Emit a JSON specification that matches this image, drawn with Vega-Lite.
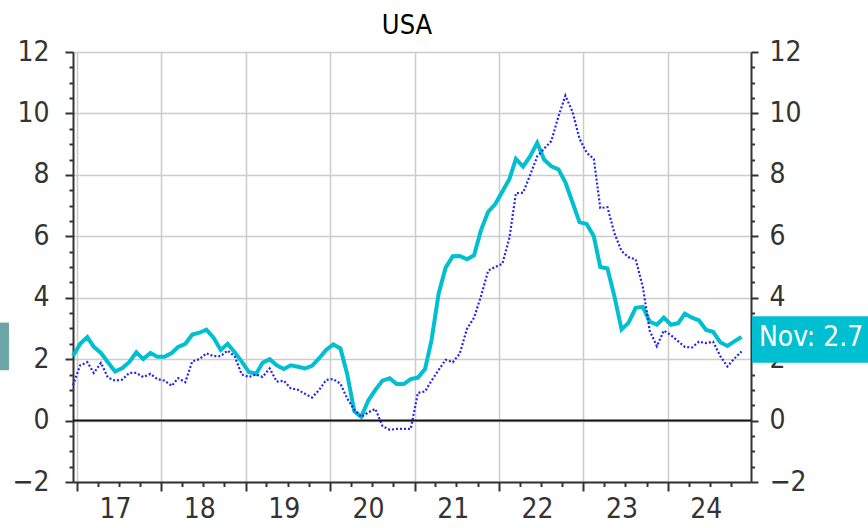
{
  "$schema": "https://vega.github.io/schema/vega-lite/v6.json",
  "width": 678,
  "height": 430,
  "autosize": {"type": "none"},
  "padding": {"left": 73, "top": 52, "right": 117, "bottom": 46},
  "title": {"text": "USA", "fontSize": 27, "fontWeight": "normal", "color": "#000000", "anchor": "middle", "frame": "group", "dx": -5, "baseline": "alphabetic", "offset": -23, "font": "DejaVu Sans Condensed, Liberation Sans Narrow, sans-serif"},
  "config": {
    "view": {"stroke": null},
    "font": "DejaVu Sans Condensed, Liberation Sans Narrow, sans-serif",
    "axis": {"labelFontSize": 28, "labelColor": "#333333", "domainColor": "#333333", "tickColor": "#333333", "domainWidth": 2, "tickWidth": 2, "gridColor": "#cccccc", "gridWidth": 1.5, "title": null, "labelFont": "DejaVu Sans Condensed, Liberation Sans Narrow, sans-serif"}
  },
  "datasets": {
    "series": [
      {"d": "2016-12-15", "us": 2.1, "ea": 1.15},
      {"d": "2017-01-15", "us": 2.5, "ea": 1.8},
      {"d": "2017-02-15", "us": 2.72, "ea": 1.9},
      {"d": "2017-03-15", "us": 2.4, "ea": 1.55},
      {"d": "2017-04-15", "us": 2.2, "ea": 1.88},
      {"d": "2017-05-15", "us": 1.9, "ea": 1.4},
      {"d": "2017-06-15", "us": 1.6, "ea": 1.3},
      {"d": "2017-07-15", "us": 1.7, "ea": 1.33},
      {"d": "2017-08-15", "us": 1.9, "ea": 1.55},
      {"d": "2017-09-15", "us": 2.22, "ea": 1.55},
      {"d": "2017-10-15", "us": 2.0, "ea": 1.42},
      {"d": "2017-11-15", "us": 2.2, "ea": 1.52},
      {"d": "2017-12-15", "us": 2.08, "ea": 1.35},
      {"d": "2018-01-15", "us": 2.08, "ea": 1.3},
      {"d": "2018-02-15", "us": 2.2, "ea": 1.13},
      {"d": "2018-03-15", "us": 2.4, "ea": 1.38},
      {"d": "2018-04-15", "us": 2.5, "ea": 1.25},
      {"d": "2018-05-15", "us": 2.8, "ea": 1.93},
      {"d": "2018-06-15", "us": 2.86, "ea": 2.0},
      {"d": "2018-07-15", "us": 2.96, "ea": 2.19},
      {"d": "2018-08-15", "us": 2.7, "ea": 2.1},
      {"d": "2018-09-15", "us": 2.3, "ea": 2.1},
      {"d": "2018-10-15", "us": 2.5, "ea": 2.28},
      {"d": "2018-11-15", "us": 2.22, "ea": 2.08},
      {"d": "2018-12-15", "us": 1.92, "ea": 1.5},
      {"d": "2019-01-15", "us": 1.58, "ea": 1.42},
      {"d": "2019-02-15", "us": 1.52, "ea": 1.5},
      {"d": "2019-03-15", "us": 1.88, "ea": 1.42},
      {"d": "2019-04-15", "us": 2.0, "ea": 1.7},
      {"d": "2019-05-15", "us": 1.8, "ea": 1.27},
      {"d": "2019-06-15", "us": 1.68, "ea": 1.3},
      {"d": "2019-07-15", "us": 1.8, "ea": 1.05},
      {"d": "2019-08-15", "us": 1.75, "ea": 1.0},
      {"d": "2019-09-15", "us": 1.7, "ea": 0.87},
      {"d": "2019-10-15", "us": 1.78, "ea": 0.75},
      {"d": "2019-11-15", "us": 2.03, "ea": 1.0},
      {"d": "2019-12-15", "us": 2.3, "ea": 1.32},
      {"d": "2020-01-15", "us": 2.48, "ea": 1.35},
      {"d": "2020-02-15", "us": 2.35, "ea": 1.2},
      {"d": "2020-03-15", "us": 1.52, "ea": 0.72},
      {"d": "2020-04-15", "us": 0.3, "ea": 0.35},
      {"d": "2020-05-15", "us": 0.12, "ea": 0.12},
      {"d": "2020-06-15", "us": 0.66, "ea": 0.27},
      {"d": "2020-07-15", "us": 1.0, "ea": 0.38},
      {"d": "2020-08-15", "us": 1.3, "ea": -0.18},
      {"d": "2020-09-15", "us": 1.38, "ea": -0.3},
      {"d": "2020-10-15", "us": 1.19, "ea": -0.27},
      {"d": "2020-11-15", "us": 1.19, "ea": -0.27},
      {"d": "2020-12-15", "us": 1.35, "ea": -0.27},
      {"d": "2021-01-15", "us": 1.4, "ea": 0.9},
      {"d": "2021-02-15", "us": 1.68, "ea": 0.95},
      {"d": "2021-03-15", "us": 2.62, "ea": 1.3},
      {"d": "2021-04-15", "us": 4.15, "ea": 1.65},
      {"d": "2021-05-15", "us": 4.98, "ea": 1.98},
      {"d": "2021-06-15", "us": 5.35, "ea": 1.9},
      {"d": "2021-07-15", "us": 5.36, "ea": 2.18},
      {"d": "2021-08-15", "us": 5.25, "ea": 2.98},
      {"d": "2021-09-15", "us": 5.38, "ea": 3.35},
      {"d": "2021-10-15", "us": 6.2, "ea": 4.05},
      {"d": "2021-11-15", "us": 6.8, "ea": 4.88},
      {"d": "2021-12-15", "us": 7.04, "ea": 5.0},
      {"d": "2022-01-15", "us": 7.45, "ea": 5.1},
      {"d": "2022-02-15", "us": 7.87, "ea": 5.95},
      {"d": "2022-03-15", "us": 8.52, "ea": 7.4},
      {"d": "2022-04-15", "us": 8.27, "ea": 7.42},
      {"d": "2022-05-15", "us": 8.6, "ea": 7.98},
      {"d": "2022-06-15", "us": 9.04, "ea": 8.6},
      {"d": "2022-07-15", "us": 8.5, "ea": 8.85},
      {"d": "2022-08-15", "us": 8.28, "ea": 9.1},
      {"d": "2022-09-15", "us": 8.18, "ea": 9.9},
      {"d": "2022-10-15", "us": 7.76, "ea": 10.58},
      {"d": "2022-11-15", "us": 7.1, "ea": 10.05},
      {"d": "2022-12-15", "us": 6.46, "ea": 9.18},
      {"d": "2023-01-15", "us": 6.4, "ea": 8.72},
      {"d": "2023-02-15", "us": 6.0, "ea": 8.52},
      {"d": "2023-03-15", "us": 5.0, "ea": 6.92},
      {"d": "2023-04-15", "us": 4.95, "ea": 6.95},
      {"d": "2023-05-15", "us": 4.05, "ea": 6.1},
      {"d": "2023-06-15", "us": 2.97, "ea": 5.52},
      {"d": "2023-07-15", "us": 3.18, "ea": 5.32},
      {"d": "2023-08-15", "us": 3.67, "ea": 5.25},
      {"d": "2023-09-15", "us": 3.7, "ea": 4.35},
      {"d": "2023-10-15", "us": 3.22, "ea": 2.92},
      {"d": "2023-11-15", "us": 3.12, "ea": 2.42},
      {"d": "2023-12-15", "us": 3.35, "ea": 2.93},
      {"d": "2024-01-15", "us": 3.12, "ea": 2.78},
      {"d": "2024-02-15", "us": 3.17, "ea": 2.58},
      {"d": "2024-03-15", "us": 3.48, "ea": 2.4},
      {"d": "2024-04-15", "us": 3.35, "ea": 2.38},
      {"d": "2024-05-15", "us": 3.26, "ea": 2.57},
      {"d": "2024-06-15", "us": 2.95, "ea": 2.52},
      {"d": "2024-07-15", "us": 2.89, "ea": 2.57},
      {"d": "2024-08-15", "us": 2.55, "ea": 2.1},
      {"d": "2024-09-15", "us": 2.43, "ea": 1.76},
      {"d": "2024-10-15", "us": 2.58, "ea": 2.02},
      {"d": "2024-11-15", "us": 2.72, "ea": 2.25}
    ],
    "box": [{"x1": "2024-12-30", "x2": "2026-06-01", "xt": "2025-09-12", "y1": 1.88, "y2": 3.4, "v": 2.7, "label": "Nov: 2.7"}],
    "stub": [{"x1": "2016-01-10", "x2": "2016-03-13", "y1": 1.64, "y2": 3.19}]
  },
  "resolve": {"axis": {"x": "independent", "y": "independent"}},
  "layer": [
    {
      "data": {"name": "stub"},
      "mark": {"type": "rect", "color": "#6ca5a5", "clip": false},
      "encoding": {
        "x": {"field": "x1", "type": "temporal", "axis": null, "scale": {"domain": [{"year": 2016, "month": 12, "date": 15}, {"year": 2024, "month": 12, "date": 26}]}},
        "x2": {"field": "x2"},
        "y": {"field": "y1", "type": "quantitative", "axis": null, "scale": {"domain": [-2, 12], "nice": false, "zero": false}},
        "y2": {"field": "y2"}
      }
    },
    {
      "data": {"name": "series"},
      "mark": {"type": "line", "color": "#00bfd0", "strokeWidth": 4, "strokeJoin": "miter"},
      "encoding": {
        "x": {"field": "d", "type": "temporal",
          "scale": {"domain": [{"year": 2016, "month": 12, "date": 15}, {"year": 2024, "month": 12, "date": 26}]},
          "axis": {"orient": "bottom", "values": [
            {"year": 2017, "month": 1, "date": 1}, {"year": 2018, "month": 1, "date": 1}, {"year": 2019, "month": 1, "date": 1}, {"year": 2020, "month": 1, "date": 1},
            {"year": 2021, "month": 1, "date": 1}, {"year": 2022, "month": 1, "date": 1}, {"year": 2023, "month": 1, "date": 1}, {"year": 2024, "month": 1, "date": 1}],
            "format": "%y", "labelOffset": 38, "labelAlign": "center", "tickSize": 9, "labelPadding": 4, "grid": true, "labelFlush": false, "labelOverlap": false}
        },
        "y": {"field": "us", "type": "quantitative",
          "scale": {"domain": [-2, 12], "nice": false, "zero": false},
          "axis": {"orient": "left", "values": [-2, 0, 2, 4, 6, 8, 10, 12], "tickSize": 8, "labelPadding": 16, "grid": true}
        }
      }
    },
    {
      "data": {"name": "series"},
      "mark": {"type": "line", "color": "#2424f2", "strokeWidth": 2.2, "strokeDash": [2, 2]},
      "encoding": {
        "x": {"field": "d", "type": "temporal",
          "scale": {"domain": [{"year": 2016, "month": 12, "date": 15}, {"year": 2024, "month": 12, "date": 26}]},
          "axis": {"orient": "bottom", "values": [
            {"year": 2017, "month": 4, "date": 1}, {"year": 2017, "month": 7, "date": 1}, {"year": 2017, "month": 10, "date": 1},
            {"year": 2018, "month": 4, "date": 1}, {"year": 2018, "month": 7, "date": 1}, {"year": 2018, "month": 10, "date": 1},
            {"year": 2019, "month": 4, "date": 1}, {"year": 2019, "month": 7, "date": 1}, {"year": 2019, "month": 10, "date": 1},
            {"year": 2020, "month": 4, "date": 1}, {"year": 2020, "month": 7, "date": 1}, {"year": 2020, "month": 10, "date": 1},
            {"year": 2021, "month": 4, "date": 1}, {"year": 2021, "month": 7, "date": 1}, {"year": 2021, "month": 10, "date": 1},
            {"year": 2022, "month": 4, "date": 1}, {"year": 2022, "month": 7, "date": 1}, {"year": 2022, "month": 10, "date": 1},
            {"year": 2023, "month": 4, "date": 1}, {"year": 2023, "month": 7, "date": 1}, {"year": 2023, "month": 10, "date": 1},
            {"year": 2024, "month": 4, "date": 1}, {"year": 2024, "month": 7, "date": 1}, {"year": 2024, "month": 10, "date": 1}],
            "labels": false, "tickSize": 4.5, "grid": false, "domain": false}
        },
        "y": {"field": "ea", "type": "quantitative",
          "scale": {"domain": [-2, 12], "nice": false, "zero": false},
          "axis": {"orient": "right", "values": [-2, 0, 2, 4, 6, 8, 10, 12], "tickSize": 7, "labelPadding": 11, "grid": false}
        }
      }
    },
    {
      "data": {"values": [{"z": 0}]},
      "mark": {"type": "rule", "color": "#111111", "strokeWidth": 2},
      "encoding": {
        "y": {"field": "z", "type": "quantitative",
          "scale": {"domain": [-2, 12], "nice": false, "zero": false},
          "axis": {"orient": "left", "values": [-1.5, -1, -0.5, 0.5, 1, 1.5, 2.5, 3, 3.5, 4.5, 5, 5.5, 6.5, 7, 7.5, 8.5, 9, 9.5, 10.5, 11, 11.5], "tickSize": 4, "labels": false, "grid": false, "domain": false}
        }
      }
    },
    {
      "data": {"name": "box"},
      "mark": {"type": "rect", "color": "#00bfd0", "clip": false},
      "encoding": {
        "x": {"field": "x1", "type": "temporal", "axis": null, "scale": {"domain": [{"year": 2016, "month": 12, "date": 15}, {"year": 2024, "month": 12, "date": 26}]}},
        "x2": {"field": "x2"},
        "y": {"field": "y1", "type": "quantitative", "scale": {"domain": [-2, 12], "nice": false, "zero": false},
          "axis": {"orient": "right", "values": [-1.5, -1, -0.5, 0.5, 1, 1.5, 2.5, 3, 3.5, 4.5, 5, 5.5, 6.5, 7, 7.5, 8.5, 9, 9.5, 10.5, 11, 11.5], "tickSize": 3.5, "labels": false, "grid": false, "domain": false}},
        "y2": {"field": "y2"}
      }
    },
    {
      "data": {"name": "box"},
      "mark": {"type": "text", "color": "#ffffff", "fontSize": 28, "align": "center", "baseline": "middle", "clip": false},
      "encoding": {
        "x": {"field": "xt", "type": "temporal", "axis": null, "scale": {"domain": [{"year": 2016, "month": 12, "date": 15}, {"year": 2024, "month": 12, "date": 26}]}},
        "y": {"field": "v", "type": "quantitative", "axis": null, "scale": {"domain": [-2, 12], "nice": false, "zero": false}},
        "text": {"field": "label"}
      }
    }
  ]
}
